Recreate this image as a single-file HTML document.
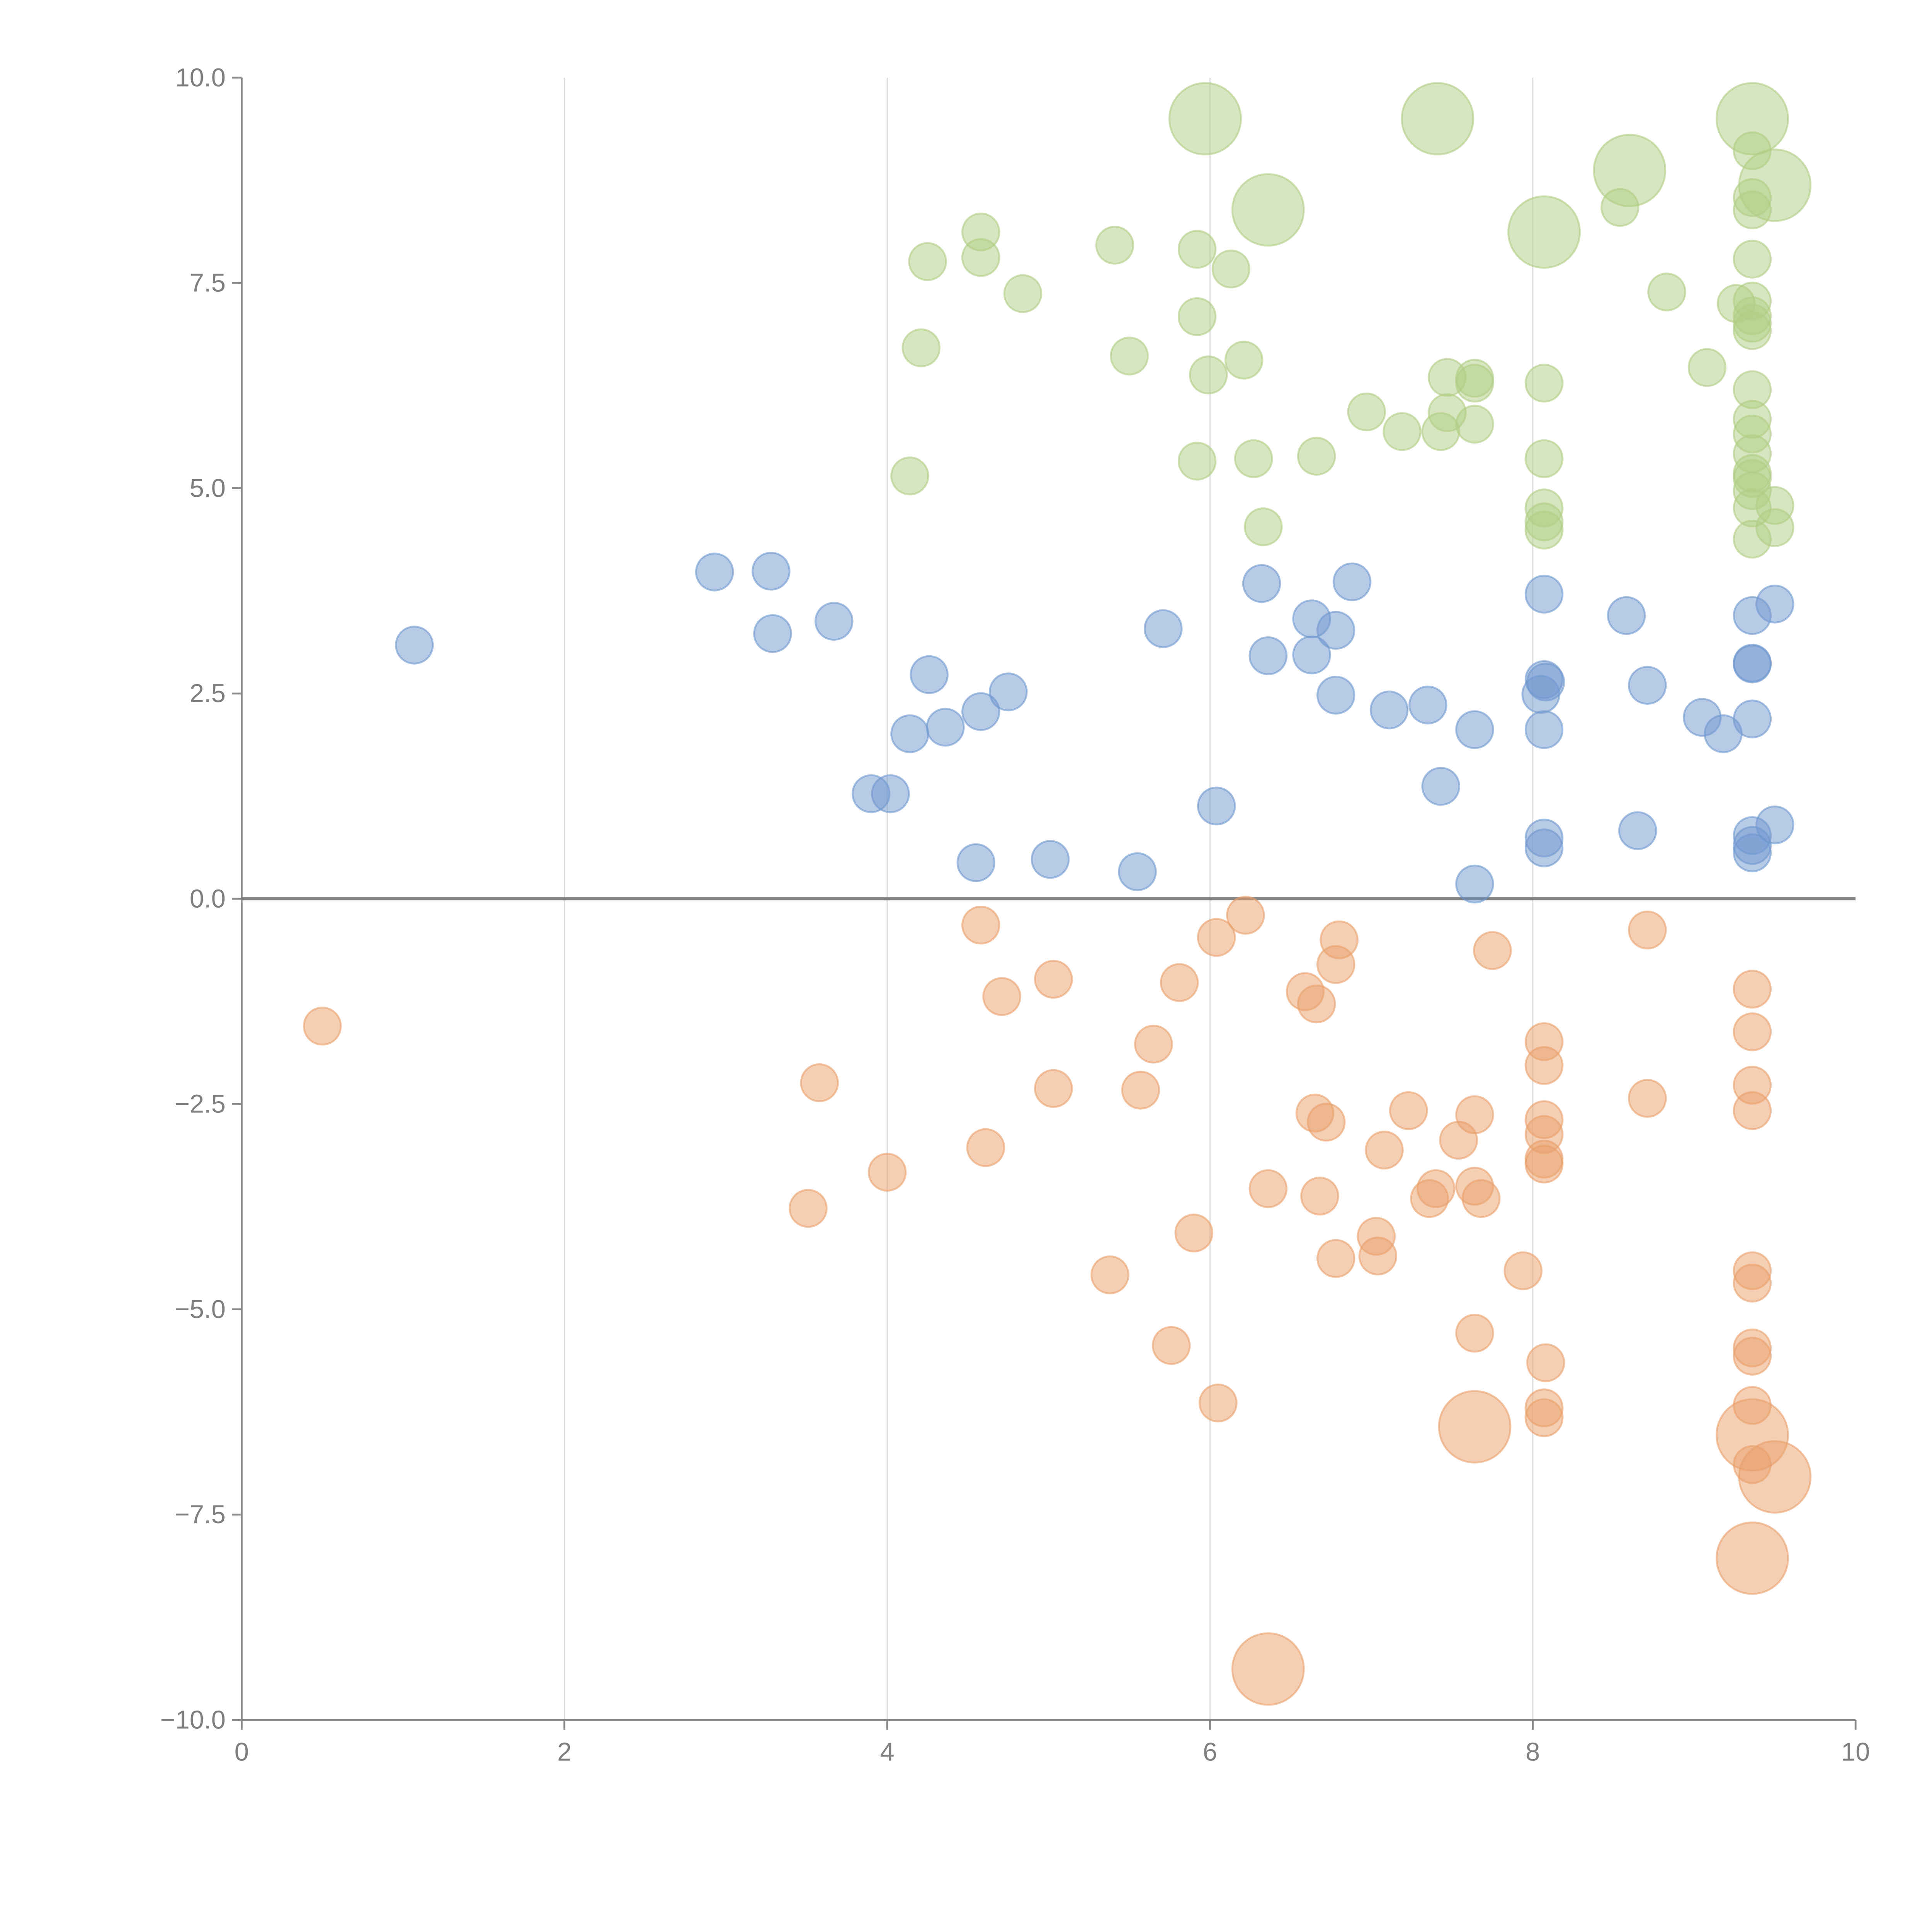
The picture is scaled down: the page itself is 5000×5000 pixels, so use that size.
<!DOCTYPE html>
<html><head><meta charset="utf-8"><style>
html,body{margin:0;padding:0;background:#fff;}
svg{display:block;}
text{font-family:"Liberation Sans",Arial,sans-serif;fill:#7f7f7f;}
</style></head><body>
<svg id="chart" width="5000" height="5000" viewBox="0 0 1567 1567" xmlns="http://www.w3.org/2000/svg">
<g id="grid"></g>
<g id="axes"></g>
<g id="marks"></g>
</svg>
<script>
const xTicks = [0, 2, 4, 6, 8, 10];
const yTicks = [10, 7.5, 5, 2.5, 0, -2.5, -5, -7.5, -10];
const blueX = [1.07,2.93,3.28,3.29,3.67,4.26,4.14,4.36,4.58,4.75,3.90,4.02,4.55,5.01,5.55,5.71,6.04,6.32,6.36,6.63,6.63,6.78,6.78,6.88,7.11,7.35,7.43,7.64,7.64,8.07,8.07,8.05,8.08,8.07,8.07,8.07,8.58,8.71,8.65,9.05,9.18,9.36,9.36,9.36,9.36,9.50,9.50,9.36,9.36,9.36];
const blueY = [3.09,3.98,3.99,3.23,3.38,2.73,2.01,2.09,2.28,2.52,1.28,1.28,0.44,0.48,0.33,3.29,1.13,3.84,2.96,3.41,2.97,3.27,2.48,3.86,2.30,2.36,1.37,2.06,0.18,3.71,2.67,2.49,2.64,2.06,0.74,0.62,3.45,2.60,0.83,2.21,2.01,3.45,2.87,2.86,2.19,3.59,0.90,0.77,0.65,0.56];
const blueSize = blueX.map(() => 1);
const greenX = [5.97,7.41,9.36,6.36,8.60,9.50,8.07,4.58,4.25,4.58,4.84,5.41,5.92,6.13,5.92,4.21,5.50,5.99,6.21,4.14,5.92,6.27,6.66,6.33,6.97,7.19,7.43,7.47,7.47,7.64,7.64,7.64,8.07,8.07,8.07,8.07,8.07,8.54,8.83,9.08,9.26,9.36,9.36,9.36,9.36,9.36,9.36,9.36,9.36,9.36,9.36,9.36,9.36,9.36,9.36,9.36,9.36,9.36,9.50,9.50];
const greenY = [9.50,9.50,9.50,8.39,8.87,8.69,8.12,8.12,7.76,7.81,7.37,7.96,7.91,7.67,7.09,6.71,6.61,6.38,6.56,5.15,5.33,5.36,5.39,4.53,5.93,5.69,5.69,6.35,5.92,6.34,6.28,5.78,6.28,5.36,4.76,4.59,4.49,8.42,7.39,6.47,7.25,9.11,8.54,8.39,7.79,7.28,7.10,7.01,6.92,6.20,5.84,5.66,5.42,5.18,5.12,4.97,4.76,4.38,4.79,4.52];
const greenSize = [2,2,2,2,2,2,2,1,1,1,1,1,1,1,1,1,1,1,1,1,1,1,1,1,1,1,1,1,1,1,1,1,1,1,1,1,1,1,1,1,1,1,1,1,1,1,1,1,1,1,1,1,1,1,1,1,1,1,1,1];
const orangeX = [0.50,3.58,3.51,4.00,4.58,4.71,4.61,5.03,5.03,5.38,5.57,5.65,5.81,5.76,5.90,6.04,6.05,6.22,6.36,6.36,6.59,6.66,6.65,6.72,6.68,6.80,6.78,6.78,7.03,7.04,7.08,7.23,7.36,7.40,7.54,7.64,7.64,7.68,7.64,7.64,7.75,7.94,8.07,8.07,8.07,8.07,8.07,8.07,8.08,8.07,8.07,8.71,8.71,9.36,9.36,9.36,9.36,9.36,9.36,9.36,9.36,9.36,9.36,9.36,9.50,9.36];
const orangeY = [-1.55,-2.24,-3.77,-3.33,-0.32,-1.19,-3.03,-0.98,-2.31,-4.58,-2.33,-1.77,-1.02,-5.44,-4.07,-0.47,-6.14,-0.20,-3.53,-9.38,-1.13,-1.28,-2.61,-2.72,-3.62,-0.50,-0.80,-4.38,-4.11,-4.35,-3.06,-2.58,-3.65,-3.53,-2.94,-2.63,-3.50,-3.65,-5.29,-6.43,-0.63,-4.53,-1.74,-2.03,-2.69,-2.87,-3.17,-3.23,-5.65,-6.20,-6.32,-0.38,-2.43,-1.10,-1.62,-2.27,-2.58,-4.53,-4.68,-5.47,-5.57,-6.17,-6.53,-6.89,-7.04,-8.03];
const orangeSize = [1,1,1,1,1,1,1,1,1,1, 1,1,1,1,1,1,1,1,1,2, 1,1,1,1,1,1,1,1,1,1, 1,1,1,1,1,1,1,1,1,2, 1,1,1,1,1,1,1,1,1,1, 1,1,1,1,1,1,1,1,1,1, 1,1,2,1,2,2];

const NS = "http://www.w3.org/2000/svg";
const X0 = 196, X1 = 1505, Y0 = 1395, Y1 = 63;
function sx(v){ return X0 + (v - 0) / 10 * (X1 - X0); }
function sy(v){ return Y0 - (v + 10) / 20 * (Y0 - Y1); }
function mk(tag, attrs, parent){
  const e = document.createElementNS(NS, tag);
  for (const k in attrs) e.setAttribute(k, attrs[k]);
  parent.appendChild(e);
  return e;
}
const grid = document.getElementById('grid');
const axes = document.getElementById('axes');
const marks = document.getElementById('marks');
const fmtY = v => (v < 0 ? '\u2212' : '') + Math.abs(v).toFixed(1);

xTicks.forEach(t => {
  if (t > 0 && t < 10) {
    const g = mk('line', {x1: sx(t), x2: sx(t), y1: Y1, y2: Y0, stroke: '#dcdcdc', 'stroke-width': 1}, grid);
    
    
  }
  const tk = mk('line', {x1: sx(t), x2: sx(t), y1: Y0, y2: Y0 + 8, stroke: '#888', 'stroke-width': 1.5}, axes);
  
  
  const lb = mk('text', {x: sx(t), y: Y0 + 33, 'text-anchor': 'middle', 'font-size': 21}, axes);
  lb.textContent = String(t);
  
  
});
yTicks.forEach(t => {
  const tk = mk('line', {x1: X0 - 8, x2: X0, y1: sy(t), y2: sy(t), stroke: '#888', 'stroke-width': 1.5}, axes);
  
  
  const lb = mk('text', {x: X0 - 13, y: sy(t) + 7, 'text-anchor': 'end', 'font-size': 21}, axes);
  lb.textContent = fmtY(t);
  
  
});
const xa = mk('line', {x1: X0, x2: X1, y1: Y0, y2: Y0, stroke: '#888', 'stroke-width': 1.5}, axes);


const ya = mk('line', {x1: X0, x2: X0, y1: Y1, y2: Y0, stroke: '#888', 'stroke-width': 1.5}, axes);


const zl = mk('line', {x1: X0, x2: X1, y1: sy(0), y2: sy(0), stroke: '#808080', 'stroke-width': 2.5}, axes);



function series(xs, ys, ss, color, name){
  xs.forEach((x, i) => {
    const c = mk('circle', {cx: sx(x), cy: sy(ys[i]), r: ss[i] === 2 ? 29 : 15, fill: color, 'fill-opacity': 0.5, stroke: color, 'stroke-opacity': 0.6, 'stroke-width': 1.5}, marks);
    
    
  });
}
series(blueX, blueY, blueSize, '#6f97cf', 'blue-bubble');
series(greenX, greenY, greenSize, '#b0cd84', 'green-bubble');
series(orangeX, orangeY, orangeSize, '#e9a06a', 'orange-bubble');
</script>
</body></html>
